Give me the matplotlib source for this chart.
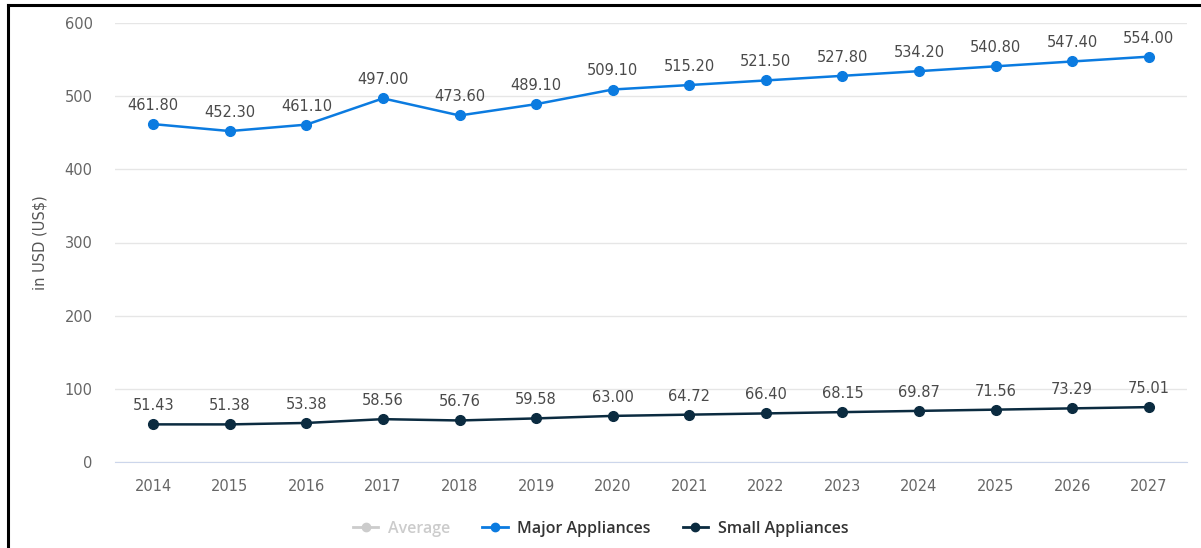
import numpy as np
import matplotlib
matplotlib.use("Agg")
import matplotlib.pyplot as plt
from matplotlib.lines import Line2D

# ---------------------------------------------------------------------------
# Data
# ---------------------------------------------------------------------------
years = [2014, 2015, 2016, 2017, 2018, 2019, 2020, 2021, 2022, 2023, 2024, 2025, 2026, 2027]
major_appliances = [461.80, 452.30, 461.10, 497.00, 473.60, 489.10, 509.10,
                    515.20, 521.50, 527.80, 534.20, 540.80, 547.40, 554.00]
small_appliances = [51.43, 51.38, 53.38, 58.56, 56.76, 59.58, 63.00,
                    64.72, 66.40, 68.15, 69.87, 71.56, 73.29, 75.01]
y_ticks = [0, 100, 200, 300, 400, 500, 600]
legend_labels = ["Average", "Major Appliances", "Small Appliances"]

BLUE = "#0b7be0"
NAVY = "#0b2b40"
GREY_LEGEND = "#cccccc"
TEXT = "#555555"

plt.rcParams["font.family"] = ["DejaVu Sans"]

fig = plt.figure(figsize=(12.01, 5.48), dpi=100)
ax = fig.add_axes([115 / 1201, 86 / 548, 1072 / 1201, 439 / 548])

ax.plot(years, major_appliances, color=BLUE, lw=1.8, marker="o", ms=7, zorder=3)
ax.plot(years, small_appliances, color=NAVY, lw=1.8, marker="o", ms=7, zorder=3)

for x, y in zip(years, major_appliances):
    ax.annotate(f"{y:.2f}", (x, y), xytext=(0, 8), textcoords="offset points",
                ha="center", va="bottom", fontsize=10.5, color="#4a4a4a")
for x, y in zip(years, small_appliances):
    ax.annotate(f"{y:.2f}", (x, y), xytext=(0, 8), textcoords="offset points",
                ha="center", va="bottom", fontsize=10.5, color="#4a4a4a")

ax.set_xlim(2013.5, 2027.5)
ax.set_ylim(0, 600)
ax.set_xticks(years)
ax.set_yticks(y_ticks)
ax.tick_params(axis="both", length=0, labelsize=10.5, labelcolor="#666666")
ax.tick_params(axis="y", pad=16)
ax.tick_params(axis="x", pad=12)
ax.grid(axis="y", color="#e6e6e6", lw=1)
ax.set_axisbelow(True)
for side in ["top", "right", "left"]:
    ax.spines[side].set_visible(False)
ax.spines["bottom"].set_color("#ccd6eb")
ax.set_ylabel("in USD (US$)", fontsize=10.5, color=TEXT, labelpad=12)

handles = [
    Line2D([], [], color=GREY_LEGEND, lw=2, marker="o", ms=6),
    Line2D([], [], color=BLUE, lw=2, marker="o", ms=6),
    Line2D([], [], color=NAVY, lw=2, marker="o", ms=6),
]
leg = fig.legend(handles, legend_labels, loc="center", ncol=3,
                 bbox_to_anchor=(0.5, 1 - 529 / 548), frameon=False,
                 prop={"family": ["Open Sans", "DejaVu Sans"], "size": 11.5, "weight": "semibold"},
                 handlelength=1.6, columnspacing=2.0, handletextpad=0.6)
for txt, col in zip(leg.get_texts(), [GREY_LEGEND, "#333333", "#333333"]):
    txt.set_color(col)

# black frame on top and left edge of the screenshot
fig.add_artist(Line2D([8 / 1201, 1], [1 - 5 / 548, 1 - 5 / 548], color="black", lw=2.2))
fig.add_artist(Line2D([8 / 1201, 8 / 1201], [0, 1 - 5 / 548], color="black", lw=2.2))

fig.savefig("out.png", dpi=100)
